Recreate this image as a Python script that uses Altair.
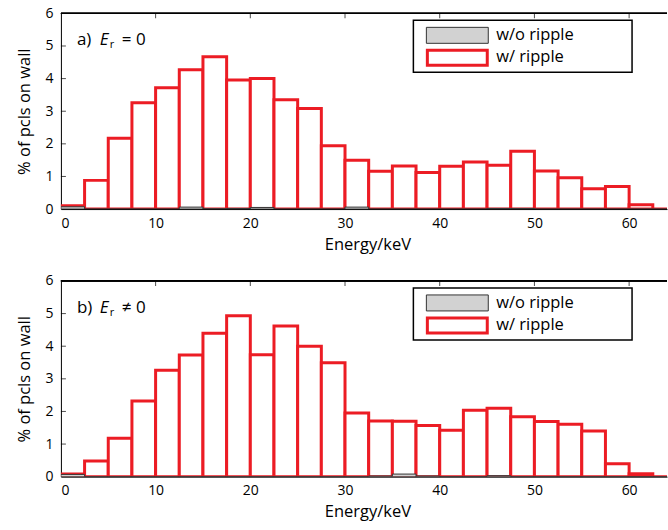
import altair as alt
import pandas as pd

# ---------------- data ----------------
bin_starts = [0, 2.5, 5, 7.5, 10, 12.5, 15, 17.5, 20, 22.5, 25, 27.5, 30, 32.5,
              35, 37.5, 40, 42.5, 45, 47.5, 50, 52.5, 55, 57.5, 60, 62.5]
bin_width = 2.5

a_ripple = [0.10, 0.88, 2.17, 3.26, 3.72, 4.27, 4.67, 3.96, 4.00, 3.35, 3.08, 1.94, 1.50,
            1.16, 1.32, 1.12, 1.31, 1.44, 1.34, 1.77, 1.17, 0.96, 0.62, 0.69, 0.13, 0.0]
a_noripple = [0.07, 0.0, 0.0, 0.0, 0.0, 0.06, 0.01, 0.02, 0.05, 0.0, 0.0, 0.0, 0.06,
              0.0, 0.0, 0.0, 0.0, 0.0, 0.02, 0.02, 0.0, 0.0, 0.0, 0.0, 0.0, 0.0]

b_ripple = [0.08, 0.48, 1.18, 2.32, 3.26, 3.73, 4.40, 4.93, 3.74, 4.62, 4.00, 3.49, 1.95,
            1.71, 1.70, 1.57, 1.42, 2.04, 2.10, 1.84, 1.69, 1.61, 1.40, 0.40, 0.09, 0.0]
b_noripple = [0.07, 0.0, 0.0, 0.0, 0.0, 0.0, 0.0, 0.0, 0.0, 0.0, 0.0, 0.0, 0.0,
              0.02, 0.08, 0.02, 0.0, 0.0, 0.03, 0.0, 0.0, 0.0, 0.0, 0.0, 0.0, 0.0]

series_names = ["w/o ripple", "w/ ripple"]
x_ticks = [0, 10, 20, 30, 40, 50, 60]
y_ticks = [0, 1, 2, 3, 4, 5, 6]

RED = "#ec1c24"
GRAY_FILL = "#d2d2d2"
GRAY_STROKE = "#333333"
FONT = "Open Sans"
W, H = 607, 196
X_DOMAIN = [0, 64]

X_SCALE = alt.Scale(domain=X_DOMAIN, nice=False, zero=False)
Y_SCALE = alt.Scale(domain=[0, 6], nice=False)
X_AXIS = alt.Axis(values=x_ticks, title="Energy/keV", ticks=False, grid=False,
                  labelPadding=7, titlePadding=6, titleX=307,
                  domainColor="black", domainWidth=1)
Y_AXIS = alt.Axis(values=y_ticks, title="% of pcls on wall", ticks=False,
                  grid=False, labelPadding=8, titlePadding=12,
                  domainColor="black", domainWidth=1)


def X(field):
    return alt.X(field, scale=X_SCALE, axis=X_AXIS)


def Y(field):
    return alt.Y(field, scale=Y_SCALE, axis=Y_AXIS)


def panel(ripple, noripple, label_prefix, relation):
    df = pd.DataFrame({
        "start": bin_starts,
        "end": [s + bin_width for s in bin_starts],
        "ripple": ripple,
        "noripple": noripple,
    })
    base = alt.Chart(df)
    red = base.mark_rect(fill="white", stroke=RED, strokeWidth=3, clip=True).encode(
        x=X("start:Q"), x2="end:Q", y=Y("ripple:Q"), y2=alt.datum(0),
    )
    gray = base.mark_rect(fill=GRAY_FILL, stroke=GRAY_STROKE, strokeWidth=1, clip=True).encode(
        x=X("start:Q"), x2="end:Q", y=Y("noripple:Q"), y2=alt.datum(0),
    )
    yt = pd.DataFrame({"v": y_ticks[1:-1]})
    xt = pd.DataFrame({"v": x_ticks[1:]})
    ytick = alt.Chart(yt).mark_tick(orient="horizontal", size=5, thickness=1, color="black").encode(
        y=Y("v:Q"), x=alt.value(2.5))
    xtick_top = alt.Chart(xt).mark_tick(orient="vertical", size=5, thickness=1, color="black").encode(
        x=X("v:Q"), y=alt.value(2.5))
    top_rule = alt.Chart(yt).mark_rule(color="black", strokeWidth=1.2).encode(
        x=alt.value(0), x2=alt.value(W), y=alt.value(0))

    one = alt.Data(values=[{"k": 0}])
    # legend
    box = alt.Chart(one).mark_rect(fill="white", stroke="black", strokeWidth=1.5).encode(
        x=alt.value(353), x2=alt.value(572), y=alt.value(7), y2=alt.value(59))
    sw1 = alt.Chart(one).mark_rect(fill=GRAY_FILL, stroke=GRAY_STROKE, strokeWidth=1).encode(
        x=alt.value(366), x2=alt.value(428), y=alt.value(14), y2=alt.value(30))
    sw2 = alt.Chart(one).mark_rect(fill="white", stroke=RED, strokeWidth=3).encode(
        x=alt.value(367), x2=alt.value(427), y=alt.value(37), y2=alt.value(52))
    lt1 = alt.Chart(one).mark_text(text=series_names[0], align="left", baseline="middle",
                                    font=FONT, fontSize=16.5, color="black").encode(
        x=alt.value(436), y=alt.value(22))
    lt2 = alt.Chart(one).mark_text(text=series_names[1], align="left", baseline="middle",
                                    font=FONT, fontSize=16.5, color="black").encode(
        x=alt.value(436), y=alt.value(44))
    # panel annotation
    t1 = alt.Chart(one).mark_text(text=label_prefix, align="left", baseline="alphabetic",
                                   font=FONT, fontSize=17, color="black").encode(
        x=alt.value(16), y=alt.value(32))
    t2 = alt.Chart(one).mark_text(text="E", align="left", baseline="alphabetic", fontStyle="italic",
                                   font=FONT, fontSize=17, color="black").encode(
        x=alt.value(39), y=alt.value(32))
    t3 = alt.Chart(one).mark_text(text="r", align="left", baseline="alphabetic",
                                   font=FONT, fontSize=11, color="black").encode(
        x=alt.value(49), y=alt.value(35))
    t4 = alt.Chart(one).mark_text(text=relation, align="left", baseline="alphabetic",
                                   font=FONT, fontSize=17, color="black").encode(
        x=alt.value(61), y=alt.value(32))

    return alt.layer(red, gray, ytick, xtick_top, top_rule, box, sw1, sw2, lt1, lt2,
                     t1, t2, t3, t4).properties(width=W, height=H)


top = panel(a_ripple, a_noripple, "a)", "= 0")
bottom = panel(b_ripple, b_noripple, "b)", "\u2260 0")

chart = alt.vconcat(top, bottom, spacing=21).properties(
    padding={"left": 16, "top": 6, "right": 0, "bottom": 0},
    background="white",
).configure_view(stroke=None).configure_axis(
    labelFont=FONT, titleFont=FONT, labelFontSize=14, titleFontSize=16.5,
    labelColor="black", titleColor="black", titleFontWeight="normal",
)

chart.save("out.html", embed_options={"renderer": "svg", "actions": False})
